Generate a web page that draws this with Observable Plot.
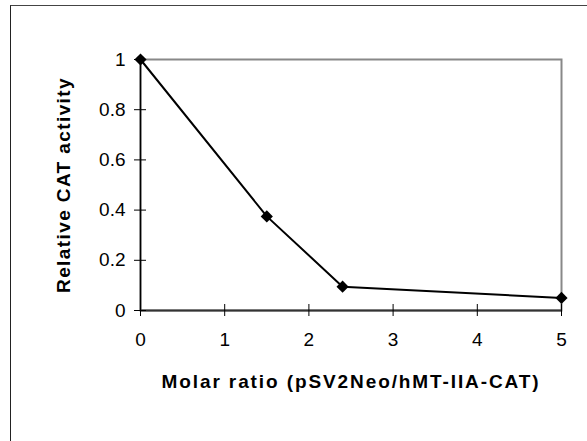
<!DOCTYPE html>
<html><head><meta charset="utf-8">
<script src="https://cdn.jsdelivr.net/npm/d3@7"></script>
<script src="https://cdn.jsdelivr.net/npm/@observablehq/plot@0.6"></script>
<style>
html,body{margin:0;padding:0;background:#fff;overflow:hidden}
#wrap{position:relative;width:587px;height:441px}
#frame{position:absolute;left:10px;top:5px;width:600px;height:500px;border-left:1.5px solid #222;border-top:1.5px solid #444;box-sizing:border-box;pointer-events:none}
</style></head><body>
<div id="wrap"><div id="chart"></div><div id="frame"></div></div>
<script>
const ratios = [0, 1.5, 2.4, 5];
const activity = [1, 0.375, 0.095, 0.05];
const xTicks = [0, 1, 2, 3, 4, 5];
const yTicks = [0, 0.2, 0.4, 0.6, 0.8, 1];
const xTitle = "Molar ratio (pSV2Neo/hMT-IIA-CAT)";
const yTitle = "Relative CAT activity";

const data = ratios.map((x, i) => ({x, y: activity[i]}));
const font = "'Liberation Sans', Arial, sans-serif";

const chart = Plot.plot({
  width: 587, height: 441,
  marginLeft: 140, marginRight: 26, marginTop: 59, marginBottom: 131,
  style: {fontFamily: font, fontSize: "19px", color: "#000", background: "white", overflow: "visible"},
  x: {domain: [0, 5]},
  y: {domain: [0, 1]},
  marks: [
    Plot.frame({stroke: "#888", strokeWidth: 2}),
    Plot.ruleX([0], {stroke: "#000", strokeWidth: 1.5}),
    Plot.ruleY([0], {stroke: "#333", strokeWidth: 2}),
    Plot.axisX({ticks: xTicks, tickSize: 12, dy: -6, tickFormat: () => "", label: null}),
    Plot.axisX({ticks: xTicks, tickSize: 0, tickPadding: 22, tickFormat: d => String(d), label: null, fontSize: 19}),
    Plot.axisY({ticks: yTicks, tickSize: 12, dx: 6, tickFormat: () => "", label: null}),
    Plot.axisY({ticks: yTicks, tickSize: 0, tickPadding: 15, tickFormat: d => String(d), label: null, fontSize: 19}),
    Plot.line(data, {x: "x", y: "y", stroke: "#000", strokeWidth: 2}),
    Plot.dot(data, {x: "x", y: "y", symbol: "diamond2", r: 5.5, fill: "#000", stroke: "none"}),
    Plot.text([yTitle], {text: d => d, frameAnchor: "left", textAnchor: "middle", rotate: -90, dx: -77, fontWeight: "bold", fontSize: 19, fill: "#000"}),
    Plot.text([xTitle], {text: d => d, frameAnchor: "bottom", textAnchor: "middle", dy: 77, fontWeight: "bold", fontSize: 19, fill: "#000"})
  ]
});
d3.select(chart).selectAll("text").each(function() {
  const t = this.textContent;
  if (t === xTitle) this.setAttribute("letter-spacing", "1.9px");
  if (t === yTitle) this.setAttribute("letter-spacing", "1.4px");
});
document.getElementById("chart").appendChild(chart);
</script>
</body></html>
